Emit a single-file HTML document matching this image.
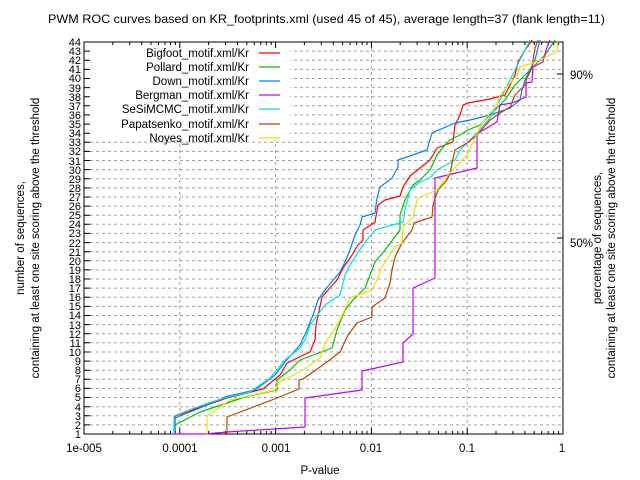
<!DOCTYPE html>
<html><head><meta charset="utf-8"><style>
html,body{margin:0;padding:0;background:#fff;}
svg{display:block;font-family:"Liberation Sans",sans-serif;}
</style></head><body>
<svg id="s" width="640" height="480" viewBox="0 0 640 480" xmlns="http://www.w3.org/2000/svg">
<rect width="640" height="480" fill="#fff"/>
<g id="grid" stroke="#a0a0a0" stroke-width="1" stroke-dasharray="3,3" fill="none"></g>
<rect x="85" y="43" width="205" height="97" fill="#fff"/>
<g id="ticks" stroke="#000" stroke-width="1" fill="none"></g>
<rect x="84" y="42" width="479" height="392" fill="none" stroke="#000" stroke-width="1"/>
<g fill="none" stroke-width="1.2" stroke-linejoin="round">
<polyline stroke="#ff0000" points="175,434 175,416 227,398 263,389 280,375 287,363 310,352 315,340 316,325 322,297 328,290 337,280 343,268 352,255 358,245 363,240 363,230 375,222 378,205 385,200 400,196 403,187 410,176 430,160 437,148 453,142 455,125 460,115 463,105 468,103 490,99 505,95 515,75 518,62 525,50 532,40"/>
<polyline stroke="#00c000" points="175,434 175,425 200,412 245,397 277,390 277,380 290,370 300,360 332,348 337,330 345,310 353,300 365,288 370,275 375,262 385,250 400,230 400,215 405,200 413,185 420,180 430,170 437,155 445,145 450,140 460,135 468,130 480,125 495,110 505,100 515,85 530,70 545,55 555,40"/>
<polyline stroke="#0080ff" points="175,434 175,418 200,408 225,397 255,390 275,375 285,362 300,345 307,330 313,315 318,300 325,290 340,272 345,262 350,250 355,235 360,225 362,217 375,213 377,198 380,187 392,178 398,167 398,160 427,150 432,133 455,123 470,120 490,115 510,108 520,100 522,90 525,80 535,60 540,40"/>
<polyline stroke="#c000ff" points="170,434 205,434 227,432 305,427 305,398 362,390 362,371 403,362 403,343 413,334 413,288 435,278 435,178 477,168 477,133 480,132 497,122 500,105 512,103 526,97 526,83 532,82 533,67 543,62 546,50 550,40"/>
<polyline stroke="#00e0e0" points="174,434 174,416 205,404 225,398 250,392 270,378 285,360 300,348 305,340 310,325 325,305 340,295 345,275 350,265 363,245 375,230 403,222 405,210 410,190 420,182 430,178 437,170 455,160 460,150 475,135 490,118 500,100 510,80 520,60 530,40"/>
<polyline stroke="#c04000" points="227,434 227,417 277,398 299,389 299,380 303,379 327,362 340,352 348,335 357,323 372,317 372,307 385,298 390,283 392,270 395,257 402,243 412,230 414,223 432,217 433,205 438,190 447,180 450,173 455,150 467,143 477,135 490,120 500,113 510,107 515,95 525,85 527,78 532,68 533,60 535,48 538,40"/>
<polyline stroke="#f0e000" points="207,434 207,416 230,400 275,390 280,382 303,370 320,358 325,343 333,332 340,320 350,298 372,290 377,280 382,267 395,247 402,243 403,227 413,217 417,200 420,197 437,190 448,175 467,155 482,123 497,105 500,95 517,75 520,67 533,63 557,52 558,40"/>
</g>
<g id="leg" stroke-width="1.2">
<line x1="259" y1="53" x2="280" y2="53" stroke="#ff0000"/>
<line x1="259" y1="67" x2="280" y2="67" stroke="#00c000"/>
<line x1="259" y1="81" x2="280" y2="81" stroke="#0080ff"/>
<line x1="259" y1="95" x2="280" y2="95" stroke="#c000ff"/>
<line x1="259" y1="109" x2="280" y2="109" stroke="#00e0e0"/>
<line x1="259" y1="124" x2="280" y2="124" stroke="#c04000"/>
<line x1="259" y1="138" x2="280" y2="138" stroke="#f0e000"/>
</g>
<g font-size="11.5" text-anchor="end" fill="#000">
<text x="249" y="57">Bigfoot_motif.xml/Kr</text>
<text x="249" y="71">Pollard_motif.xml/Kr</text>
<text x="249" y="85">Down_motif.xml/Kr</text>
<text x="249" y="99">Bergman_motif.xml/Kr</text>
<text x="249" y="113">SeSiMCMC_motif.xml/Kr</text>
<text x="249" y="128">Papatsenko_motif.xml/Kr</text>
<text x="249" y="142">Noyes_motif.xml/Kr</text>
</g>
<text x="48" y="23" font-size="12" textLength="557" lengthAdjust="spacingAndGlyphs">PWM ROC curves based on KR_footprints.xml (used 45 of 45), average length=37 (flank length=11)</text>
<g font-size="11.5" text-anchor="middle">
<text x="84" y="452">1e-005</text>
<text x="180" y="452">0.0001</text>
<text x="276" y="452">0.001</text>
<text x="371" y="452">0.01</text>
<text x="467" y="452">0.1</text>
<text x="562" y="452">1</text>
<text x="320" y="474">P-value</text>
</g>
<g font-size="11.5">
<text x="570" y="79">90%</text>
<text x="570" y="247">50%</text>
</g>
<g font-size="11.5" text-anchor="middle">
<text transform="translate(24,238) rotate(-90)">number of sequences,</text>
<text transform="translate(39,238) rotate(-90)">containing at least one site scoring above the threshold</text>
<text transform="translate(601,238) rotate(-90)">percentage of sequences,</text>
<text transform="translate(615,238) rotate(-90)">containing at least one site scoring above the threshold</text>
</g>
<g font-size="11" text-anchor="end" id="yl">
<text x="81" y="438">1</text><text x="81" y="429">2</text><text x="81" y="420">3</text><text x="81" y="411">4</text><text x="81" y="401">5</text><text x="81" y="392">6</text><text x="81" y="383">7</text><text x="81" y="374">8</text><text x="81" y="365">9</text><text x="81" y="356">10</text><text x="81" y="347">11</text><text x="81" y="338">12</text><text x="81" y="329">13</text><text x="81" y="319">14</text><text x="81" y="310">15</text><text x="81" y="301">16</text><text x="81" y="292">17</text><text x="81" y="283">18</text><text x="81" y="274">19</text><text x="81" y="265">20</text><text x="81" y="256">21</text><text x="81" y="247">22</text><text x="81" y="237">23</text><text x="81" y="228">24</text><text x="81" y="219">25</text><text x="81" y="210">26</text><text x="81" y="201">27</text><text x="81" y="192">28</text><text x="81" y="183">29</text><text x="81" y="174">30</text><text x="81" y="165">31</text><text x="81" y="155">32</text><text x="81" y="146">33</text><text x="81" y="137">34</text><text x="81" y="128">35</text><text x="81" y="119">36</text><text x="81" y="110">37</text><text x="81" y="101">38</text><text x="81" y="92">39</text><text x="81" y="82">40</text><text x="81" y="73">41</text><text x="81" y="64">42</text><text x="81" y="55">43</text><text x="81" y="46">44</text>
</g>
<script>
(function(){
var ns="http://www.w3.org/2000/svg";
var g=document.getElementById("grid"),t=document.getElementById("ticks");
var gd="",td="";
for(var n=1;n<=44;n++){var y=(434-(n-1)*9.116).toFixed(1);
 if(n>1&&n<44) gd+="M84,"+y+"H563";
 td+="M84,"+y+"h6";}
var dec=95.8;
for(var d=0;d<=5;d++){var x0=84+d*dec;
 if(d>0&&d<5) gd+="M"+x0.toFixed(1)+",42V434";
 td+="M"+x0.toFixed(1)+",434v-6M"+x0.toFixed(1)+",42v6";
 if(d<5) for(var k=2;k<=9;k++){var x=(x0+Math.log10(k)*dec).toFixed(1);td+="M"+x+",434v-3M"+x+",42v3";}}
td+="M563,74h-6M563,238h-6";
var p=document.createElementNS(ns,"path");p.setAttribute("d",gd);g.appendChild(p);
var q=document.createElementNS(ns,"path");q.setAttribute("d",td);t.appendChild(q);
})();
</script>
</svg>
</body></html>
